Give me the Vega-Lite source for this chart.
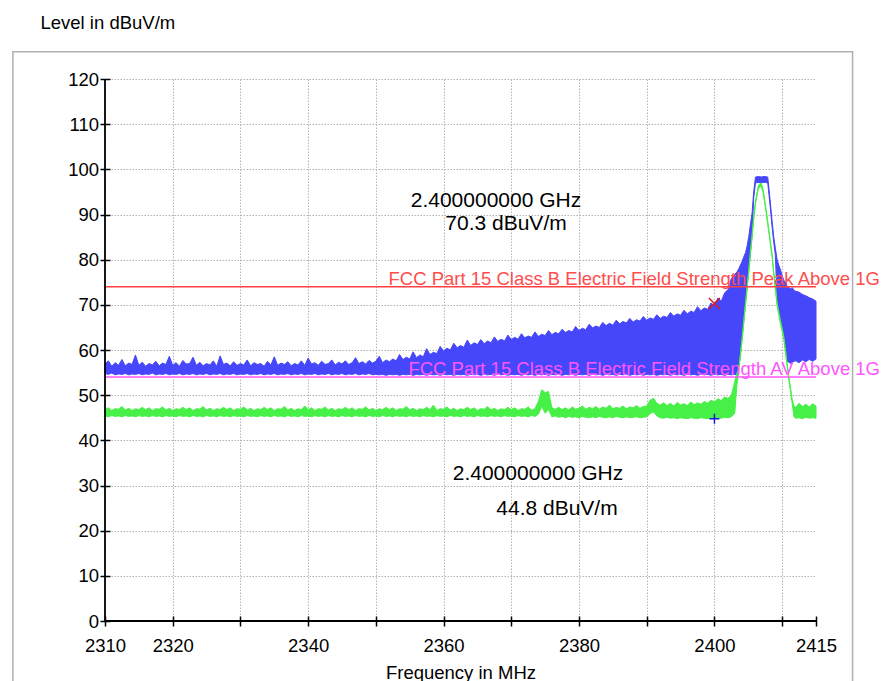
{
"$schema": "https://vega.github.io/schema/vega-lite/v6.json",
"autosize": {"type": "none"},
"padding": {"left": 105, "top": 79, "right": 66, "bottom": 60},
"width": 711,
"height": 542,
"background": "white",
"config": {"view": {"stroke": null}, "font": "Liberation Sans"},
"datasets": {
"one": [{}],
"trace": [
{"f":2310.0,"hi":56.9,"lo":54.8,"ghi":46.8,"glo":45.4},
{"f":2310.5,"hi":57.6,"lo":54.6,"ghi":47.2,"glo":45.2},
{"f":2311.0,"hi":56.4,"lo":54.9,"ghi":46.6,"glo":45.5},
{"f":2311.5,"hi":57.2,"lo":54.5,"ghi":47.0,"glo":45.3},
{"f":2312.0,"hi":56.6,"lo":54.7,"ghi":46.9,"glo":45.4},
{"f":2312.5,"hi":57.9,"lo":54.6,"ghi":47.5,"glo":45.2},
{"f":2313.0,"hi":56.5,"lo":54.8,"ghi":46.7,"glo":45.5},
{"f":2313.5,"hi":57.1,"lo":54.5,"ghi":47.1,"glo":45.3},
{"f":2314.0,"hi":56.8,"lo":54.7,"ghi":46.6,"glo":45.4},
{"f":2314.5,"hi":58.9,"lo":54.6,"ghi":47.0,"glo":45.2},
{"f":2315.0,"hi":56.6,"lo":54.8,"ghi":46.8,"glo":45.5},
{"f":2315.5,"hi":57.3,"lo":54.5,"ghi":47.3,"glo":45.3},
{"f":2316.0,"hi":56.4,"lo":54.7,"ghi":46.8,"glo":45.4},
{"f":2316.5,"hi":57.0,"lo":54.6,"ghi":47.2,"glo":45.2},
{"f":2317.0,"hi":56.7,"lo":54.9,"ghi":46.6,"glo":45.5},
{"f":2317.5,"hi":57.5,"lo":54.5,"ghi":47.0,"glo":45.3},
{"f":2318.0,"hi":56.5,"lo":54.7,"ghi":46.9,"glo":45.4},
{"f":2318.5,"hi":57.1,"lo":54.6,"ghi":47.4,"glo":45.2},
{"f":2319.0,"hi":56.8,"lo":54.8,"ghi":46.7,"glo":45.5},
{"f":2319.5,"hi":58.6,"lo":54.5,"ghi":47.1,"glo":45.3},
{"f":2320.0,"hi":56.6,"lo":54.7,"ghi":46.6,"glo":45.4},
{"f":2320.5,"hi":57.2,"lo":54.6,"ghi":47.0,"glo":45.2},
{"f":2321.0,"hi":56.4,"lo":54.8,"ghi":46.8,"glo":45.5},
{"f":2321.5,"hi":57.7,"lo":54.5,"ghi":47.3,"glo":45.3},
{"f":2322.0,"hi":56.9,"lo":54.7,"ghi":46.8,"glo":45.4},
{"f":2322.5,"hi":57.0,"lo":54.6,"ghi":47.2,"glo":45.2},
{"f":2323.0,"hi":58.4,"lo":54.8,"ghi":46.6,"glo":45.5},
{"f":2323.5,"hi":56.6,"lo":54.5,"ghi":47.0,"glo":45.3},
{"f":2324.0,"hi":57.3,"lo":54.7,"ghi":46.9,"glo":45.4},
{"f":2324.5,"hi":56.5,"lo":54.6,"ghi":47.5,"glo":45.2},
{"f":2325.0,"hi":57.0,"lo":54.8,"ghi":46.7,"glo":45.5},
{"f":2325.5,"hi":56.7,"lo":54.5,"ghi":47.1,"glo":45.3},
{"f":2326.0,"hi":57.6,"lo":54.7,"ghi":46.6,"glo":45.4},
{"f":2326.5,"hi":56.4,"lo":54.6,"ghi":47.0,"glo":45.2},
{"f":2327.0,"hi":58.7,"lo":54.8,"ghi":46.8,"glo":45.5},
{"f":2327.5,"hi":56.8,"lo":54.5,"ghi":47.3,"glo":45.3},
{"f":2328.0,"hi":57.1,"lo":54.7,"ghi":46.8,"glo":45.4},
{"f":2328.5,"hi":56.5,"lo":54.6,"ghi":47.2,"glo":45.2},
{"f":2329.0,"hi":57.4,"lo":54.8,"ghi":46.6,"glo":45.5},
{"f":2329.5,"hi":56.6,"lo":54.5,"ghi":47.0,"glo":45.3},
{"f":2330.0,"hi":57.0,"lo":54.7,"ghi":46.9,"glo":45.4},
{"f":2330.5,"hi":56.7,"lo":54.6,"ghi":47.4,"glo":45.2},
{"f":2331.0,"hi":57.8,"lo":54.8,"ghi":46.7,"glo":45.5},
{"f":2331.5,"hi":56.5,"lo":54.5,"ghi":47.1,"glo":45.3},
{"f":2332.0,"hi":57.2,"lo":54.7,"ghi":46.6,"glo":45.4},
{"f":2332.5,"hi":56.8,"lo":54.6,"ghi":47.0,"glo":45.2},
{"f":2333.0,"hi":57.0,"lo":54.8,"ghi":46.8,"glo":45.5},
{"f":2333.5,"hi":56.4,"lo":54.5,"ghi":47.3,"glo":45.3},
{"f":2334.0,"hi":57.5,"lo":54.7,"ghi":46.8,"glo":45.4},
{"f":2334.5,"hi":56.7,"lo":54.6,"ghi":47.2,"glo":45.2},
{"f":2335.0,"hi":58.5,"lo":54.8,"ghi":46.6,"glo":45.5},
{"f":2335.5,"hi":56.6,"lo":54.5,"ghi":47.0,"glo":45.3},
{"f":2336.0,"hi":57.1,"lo":54.7,"ghi":46.9,"glo":45.4},
{"f":2336.5,"hi":56.8,"lo":54.6,"ghi":47.5,"glo":45.2},
{"f":2337.0,"hi":57.4,"lo":54.8,"ghi":46.7,"glo":45.5},
{"f":2337.5,"hi":56.5,"lo":54.5,"ghi":47.1,"glo":45.3},
{"f":2338.0,"hi":57.0,"lo":54.7,"ghi":46.6,"glo":45.4},
{"f":2338.5,"hi":56.7,"lo":54.6,"ghi":47.0,"glo":45.2},
{"f":2339.0,"hi":57.6,"lo":54.8,"ghi":46.8,"glo":45.5},
{"f":2339.5,"hi":56.6,"lo":54.5,"ghi":47.6,"glo":45.3},
{"f":2340.0,"hi":58.2,"lo":54.7,"ghi":46.8,"glo":45.4},
{"f":2340.5,"hi":56.9,"lo":54.6,"ghi":47.2,"glo":45.2},
{"f":2341.0,"hi":57.2,"lo":54.8,"ghi":46.6,"glo":45.5},
{"f":2341.5,"hi":56.6,"lo":54.5,"ghi":47.0,"glo":45.3},
{"f":2342.0,"hi":57.5,"lo":54.7,"ghi":46.9,"glo":45.4},
{"f":2342.5,"hi":56.8,"lo":54.6,"ghi":47.4,"glo":45.2},
{"f":2343.0,"hi":57.0,"lo":54.8,"ghi":46.7,"glo":45.5},
{"f":2343.5,"hi":57.8,"lo":54.5,"ghi":47.1,"glo":45.3},
{"f":2344.0,"hi":56.7,"lo":54.7,"ghi":46.6,"glo":45.4},
{"f":2344.5,"hi":57.3,"lo":54.6,"ghi":47.0,"glo":45.2},
{"f":2345.0,"hi":56.9,"lo":54.8,"ghi":46.8,"glo":45.5},
{"f":2345.5,"hi":57.6,"lo":54.5,"ghi":47.3,"glo":45.3},
{"f":2346.0,"hi":56.8,"lo":54.7,"ghi":46.8,"glo":45.4},
{"f":2346.5,"hi":57.2,"lo":54.6,"ghi":47.2,"glo":45.2},
{"f":2347.0,"hi":58.3,"lo":54.8,"ghi":46.6,"glo":45.5},
{"f":2347.5,"hi":57.0,"lo":54.5,"ghi":47.0,"glo":45.3},
{"f":2348.0,"hi":57.4,"lo":54.7,"ghi":46.9,"glo":45.4},
{"f":2348.5,"hi":56.9,"lo":54.6,"ghi":47.4,"glo":45.2},
{"f":2349.0,"hi":57.7,"lo":54.8,"ghi":46.7,"glo":45.5},
{"f":2349.5,"hi":57.1,"lo":54.5,"ghi":47.1,"glo":45.3},
{"f":2350.0,"hi":57.5,"lo":54.6,"ghi":46.6,"glo":45.4},
{"f":2350.5,"hi":58.6,"lo":54.5,"ghi":47.0,"glo":45.2},
{"f":2351.0,"hi":57.2,"lo":54.6,"ghi":46.8,"glo":45.5},
{"f":2351.5,"hi":57.8,"lo":54.4,"ghi":47.3,"glo":45.3},
{"f":2352.0,"hi":57.4,"lo":54.6,"ghi":46.8,"glo":45.4},
{"f":2352.5,"hi":58.0,"lo":54.5,"ghi":47.2,"glo":45.2},
{"f":2353.0,"hi":57.6,"lo":54.6,"ghi":46.6,"glo":45.5},
{"f":2353.5,"hi":59.0,"lo":54.4,"ghi":47.0,"glo":45.3},
{"f":2354.0,"hi":57.9,"lo":54.6,"ghi":46.9,"glo":45.4},
{"f":2354.5,"hi":58.4,"lo":54.5,"ghi":47.5,"glo":45.2},
{"f":2355.0,"hi":58.0,"lo":54.6,"ghi":46.7,"glo":45.5},
{"f":2355.5,"hi":59.6,"lo":54.4,"ghi":47.1,"glo":45.3},
{"f":2356.0,"hi":58.3,"lo":54.6,"ghi":46.6,"glo":45.4},
{"f":2356.5,"hi":58.9,"lo":54.5,"ghi":47.0,"glo":45.2},
{"f":2357.0,"hi":58.5,"lo":54.6,"ghi":46.8,"glo":45.5},
{"f":2357.5,"hi":60.3,"lo":54.4,"ghi":47.3,"glo":45.3},
{"f":2358.0,"hi":59.0,"lo":54.6,"ghi":46.8,"glo":45.4},
{"f":2358.5,"hi":59.5,"lo":54.5,"ghi":47.8,"glo":45.2},
{"f":2359.0,"hi":59.2,"lo":54.6,"ghi":46.6,"glo":45.5},
{"f":2359.5,"hi":60.8,"lo":54.4,"ghi":47.0,"glo":45.3},
{"f":2360.0,"hi":59.8,"lo":54.6,"ghi":46.9,"glo":45.4},
{"f":2360.5,"hi":60.4,"lo":54.5,"ghi":47.4,"glo":45.2},
{"f":2361.0,"hi":60.0,"lo":54.6,"ghi":46.7,"glo":45.5},
{"f":2361.5,"hi":61.5,"lo":54.4,"ghi":47.1,"glo":45.3},
{"f":2362.0,"hi":60.5,"lo":54.6,"ghi":46.6,"glo":45.4},
{"f":2362.5,"hi":61.0,"lo":54.5,"ghi":47.0,"glo":45.2},
{"f":2363.0,"hi":60.6,"lo":54.6,"ghi":46.8,"glo":45.5},
{"f":2363.5,"hi":62.2,"lo":54.4,"ghi":47.3,"glo":45.3},
{"f":2364.0,"hi":61.0,"lo":54.6,"ghi":46.8,"glo":45.4},
{"f":2364.5,"hi":61.6,"lo":54.5,"ghi":47.2,"glo":45.2},
{"f":2365.0,"hi":61.2,"lo":54.6,"ghi":46.6,"glo":45.5},
{"f":2365.5,"hi":62.3,"lo":54.4,"ghi":47.0,"glo":45.3},
{"f":2366.0,"hi":61.4,"lo":54.6,"ghi":46.9,"glo":45.4},
{"f":2366.5,"hi":62.0,"lo":54.5,"ghi":47.5,"glo":45.2},
{"f":2367.0,"hi":61.6,"lo":54.6,"ghi":46.7,"glo":45.5},
{"f":2367.5,"hi":62.9,"lo":54.4,"ghi":47.1,"glo":45.3},
{"f":2368.0,"hi":61.9,"lo":54.6,"ghi":46.6,"glo":45.4},
{"f":2368.5,"hi":62.4,"lo":54.5,"ghi":47.0,"glo":45.2},
{"f":2369.0,"hi":62.0,"lo":54.6,"ghi":46.8,"glo":45.5},
{"f":2369.5,"hi":63.3,"lo":54.4,"ghi":47.3,"glo":45.3},
{"f":2370.0,"hi":62.3,"lo":54.6,"ghi":46.8,"glo":45.4},
{"f":2370.5,"hi":62.8,"lo":54.5,"ghi":47.2,"glo":45.2},
{"f":2371.0,"hi":62.4,"lo":54.6,"ghi":46.6,"glo":45.5},
{"f":2371.5,"hi":63.6,"lo":54.4,"ghi":47.0,"glo":45.3},
{"f":2372.0,"hi":62.7,"lo":54.6,"ghi":46.9,"glo":45.4},
{"f":2372.5,"hi":63.1,"lo":54.5,"ghi":47.4,"glo":45.2},
{"f":2373.0,"hi":62.8,"lo":54.6,"ghi":46.7,"glo":45.5},
{"f":2373.5,"hi":64.0,"lo":54.4,"ghi":47.0,"glo":45.3},
{"f":2374.0,"hi":63.0,"lo":54.6,"ghi":48.6,"glo":45.8},
{"f":2374.5,"hi":63.5,"lo":54.5,"ghi":51.2,"glo":47.5},
{"f":2375.0,"hi":63.2,"lo":54.6,"ghi":50.6,"glo":46.0},
{"f":2375.5,"hi":64.3,"lo":54.4,"ghi":50.8,"glo":46.8},
{"f":2376.0,"hi":63.4,"lo":54.6,"ghi":47.2,"glo":45.2},
{"f":2376.5,"hi":63.9,"lo":54.5,"ghi":46.9,"glo":45.4},
{"f":2377.0,"hi":63.6,"lo":54.6,"ghi":47.3,"glo":45.1},
{"f":2377.5,"hi":64.6,"lo":54.4,"ghi":46.8,"glo":45.3},
{"f":2378.0,"hi":63.9,"lo":54.6,"ghi":47.2,"glo":45.0},
{"f":2378.5,"hi":64.3,"lo":54.5,"ghi":46.7,"glo":45.3},
{"f":2379.0,"hi":64.0,"lo":54.6,"ghi":47.4,"glo":45.1},
{"f":2379.5,"hi":65.2,"lo":54.4,"ghi":46.9,"glo":45.2},
{"f":2380.0,"hi":64.3,"lo":54.6,"ghi":47.1,"glo":45.0},
{"f":2380.5,"hi":64.8,"lo":54.5,"ghi":47.6,"glo":45.3},
{"f":2381.0,"hi":64.5,"lo":54.6,"ghi":46.9,"glo":45.1},
{"f":2381.5,"hi":65.7,"lo":54.4,"ghi":47.3,"glo":45.0},
{"f":2382.0,"hi":64.9,"lo":54.6,"ghi":47.0,"glo":45.2},
{"f":2382.5,"hi":65.3,"lo":54.5,"ghi":47.5,"glo":45.0},
{"f":2383.0,"hi":65.0,"lo":54.6,"ghi":46.9,"glo":45.3},
{"f":2383.5,"hi":66.1,"lo":54.4,"ghi":47.4,"glo":45.1},
{"f":2384.0,"hi":65.4,"lo":54.6,"ghi":47.1,"glo":45.0},
{"f":2384.5,"hi":65.9,"lo":54.5,"ghi":47.8,"glo":45.2},
{"f":2385.0,"hi":65.5,"lo":54.6,"ghi":47.0,"glo":45.0},
{"f":2385.5,"hi":66.6,"lo":54.4,"ghi":47.3,"glo":45.3},
{"f":2386.0,"hi":65.8,"lo":54.6,"ghi":47.1,"glo":45.1},
{"f":2386.5,"hi":66.3,"lo":54.5,"ghi":47.6,"glo":45.0},
{"f":2387.0,"hi":66.0,"lo":54.6,"ghi":47.0,"glo":45.2},
{"f":2387.5,"hi":67.0,"lo":54.4,"ghi":47.4,"glo":45.0},
{"f":2388.0,"hi":66.2,"lo":54.6,"ghi":47.2,"glo":45.1},
{"f":2388.5,"hi":66.7,"lo":54.5,"ghi":47.7,"glo":45.2},
{"f":2389.0,"hi":66.4,"lo":54.6,"ghi":47.1,"glo":45.0},
{"f":2389.5,"hi":67.4,"lo":54.4,"ghi":47.5,"glo":45.1},
{"f":2390.0,"hi":66.6,"lo":54.6,"ghi":47.6,"glo":45.2},
{"f":2390.5,"hi":67.1,"lo":54.5,"ghi":48.9,"glo":45.9},
{"f":2391.0,"hi":66.8,"lo":54.6,"ghi":49.3,"glo":46.3},
{"f":2391.5,"hi":67.8,"lo":54.4,"ghi":48.2,"glo":45.4},
{"f":2392.0,"hi":67.0,"lo":54.6,"ghi":47.8,"glo":45.0},
{"f":2392.5,"hi":67.5,"lo":54.5,"ghi":48.3,"glo":44.9},
{"f":2393.0,"hi":67.2,"lo":54.6,"ghi":47.7,"glo":45.1},
{"f":2393.5,"hi":68.3,"lo":54.4,"ghi":48.2,"glo":44.9},
{"f":2394.0,"hi":67.5,"lo":54.6,"ghi":47.6,"glo":45.0},
{"f":2394.5,"hi":68.0,"lo":54.5,"ghi":48.4,"glo":44.8},
{"f":2395.0,"hi":67.7,"lo":54.6,"ghi":47.8,"glo":45.0},
{"f":2395.5,"hi":68.8,"lo":54.4,"ghi":48.1,"glo":44.9},
{"f":2396.0,"hi":68.0,"lo":54.6,"ghi":47.7,"glo":44.8},
{"f":2396.5,"hi":68.6,"lo":54.5,"ghi":48.5,"glo":45.0},
{"f":2397.0,"hi":68.3,"lo":54.6,"ghi":47.9,"glo":44.9},
{"f":2397.5,"hi":69.6,"lo":54.4,"ghi":48.3,"glo":44.8},
{"f":2398.0,"hi":68.7,"lo":54.6,"ghi":48.0,"glo":45.0},
{"f":2398.5,"hi":69.3,"lo":54.5,"ghi":48.6,"glo":44.9},
{"f":2399.0,"hi":69.0,"lo":54.6,"ghi":48.2,"glo":44.8},
{"f":2399.5,"hi":70.4,"lo":54.4,"ghi":48.9,"glo":45.0},
{"f":2400.0,"hi":69.8,"lo":54.6,"ghi":48.5,"glo":44.9},
{"f":2400.5,"hi":71.5,"lo":54.5,"ghi":49.2,"glo":45.0},
{"f":2401.0,"hi":70.8,"lo":54.6,"ghi":48.8,"glo":44.9},
{"f":2401.5,"hi":72.6,"lo":54.4,"ghi":49.6,"glo":45.1},
{"f":2402.0,"hi":73.4,"lo":54.6,"ghi":49.3,"glo":45.0},
{"f":2402.5,"hi":75.8,"lo":54.5,"ghi":49.9,"glo":45.2},
{"f":2403.0,"hi":76.8,"lo":54.6,"ghi":53.0,"glo":46.0},
{"f":2403.3,"hi":77.2,"lo":54.5,"ghi":54.8,"glo":52.0},
{"f":2403.6,"hi":78.0,"lo":56.0,"ghi":56.0,"glo":55.2},
{"f":2404.0,"hi":79.3,"lo":61.5,"ghi":61.5,"glo":60.8},
{"f":2404.3,"hi":80.5,"lo":66.0,"ghi":66.0,"glo":65.3},
{"f":2404.6,"hi":81.6,"lo":70.7,"ghi":70.7,"glo":70.0},
{"f":2404.85,"hi":83.2,"lo":74.5,"ghi":74.5,"glo":73.8},
{"f":2405.07,"hi":85.1,"lo":77.8,"ghi":77.8,"glo":77.1},
{"f":2405.3,"hi":87.6,"lo":81.5,"ghi":81.5,"glo":80.8},
{"f":2405.56,"hi":90.3,"lo":85.5,"ghi":85.5,"glo":84.8},
{"f":2405.8,"hi":95.0,"lo":93.6,"ghi":89.5,"glo":88.8},
{"f":2406.06,"hi":98.3,"lo":97.0,"ghi":93.0,"glo":92.3},
{"f":2406.5,"hi":98.4,"lo":97.1,"ghi":96.5,"glo":95.8},
{"f":2406.9,"hi":98.3,"lo":97.0,"ghi":97.0,"glo":96.3},
{"f":2407.2,"hi":98.4,"lo":97.1,"ghi":95.5,"glo":94.8},
{"f":2407.5,"hi":98.4,"lo":97.1,"ghi":92.5,"glo":91.8},
{"f":2407.87,"hi":98.3,"lo":97.0,"ghi":88.5,"glo":87.8},
{"f":2408.07,"hi":95.5,"lo":94.2,"ghi":86.3,"glo":85.6},
{"f":2408.27,"hi":92.5,"lo":91.2,"ghi":84.0,"glo":83.3},
{"f":2408.5,"hi":88.8,"lo":87.5,"ghi":81.5,"glo":80.8},
{"f":2408.76,"hi":85.1,"lo":83.8,"ghi":77.5,"glo":76.8},
{"f":2409.0,"hi":82.5,"lo":81.0,"ghi":74.0,"glo":73.3},
{"f":2409.26,"hi":80.0,"lo":71.0,"ghi":70.4,"glo":69.7},
{"f":2409.5,"hi":78.8,"lo":69.0,"ghi":68.5,"glo":67.8},
{"f":2409.75,"hi":77.8,"lo":67.0,"ghi":66.5,"glo":65.8},
{"f":2410.0,"hi":76.5,"lo":65.3,"ghi":64.8,"glo":64.1},
{"f":2410.24,"hi":75.5,"lo":63.5,"ghi":63.0,"glo":62.3},
{"f":2410.5,"hi":74.8,"lo":60.5,"ghi":60.0,"glo":59.3},
{"f":2410.74,"hi":74.1,"lo":57.5,"ghi":57.0,"glo":56.3},
{"f":2411.0,"hi":73.9,"lo":57.3,"ghi":54.0,"glo":53.3},
{"f":2411.25,"hi":73.5,"lo":57.0,"ghi":51.5,"glo":50.8},
{"f":2411.5,"hi":73.8,"lo":57.3,"ghi":49.0,"glo":48.0},
{"f":2411.75,"hi":73.2,"lo":57.5,"ghi":47.6,"glo":45.2},
{"f":2412.0,"hi":73.0,"lo":57.6,"ghi":47.3,"glo":44.9},
{"f":2412.5,"hi":72.8,"lo":57.2,"ghi":48.2,"glo":45.0},
{"f":2413.0,"hi":72.3,"lo":57.8,"ghi":47.5,"glo":44.8},
{"f":2413.5,"hi":72.0,"lo":57.4,"ghi":48.0,"glo":45.1},
{"f":2414.0,"hi":71.6,"lo":57.9,"ghi":47.4,"glo":44.9},
{"f":2414.5,"hi":71.3,"lo":57.5,"ghi":48.1,"glo":45.0},
{"f":2415.0,"hi":70.8,"lo":58.0,"ghi":47.6,"glo":44.9}
]
},
"layer": [
{
"data": {"name": "trace"},
"mark": {"type": "area", "color": "#4646FA", "stroke": "#4646FA", "strokeWidth": 1, "opacity": 1},
"encoding": {
"x": {"field": "f", "type": "quantitative",
"scale": {"domain": [2310, 2415], "nice": false, "zero": false},
"axis": {"title": "Frequency in MHz", "titleFontSize": 18.5, "titleFontWeight": "normal", "titleColor": "#000000", "titleY": 62, "titleBaseline": "alphabetic",
"values": [2310, 2320, 2330, 2340, 2350, 2360, 2370, 2380, 2390, 2400, 2410, 2415],
"format": "d",
"labelExpr": "indexof([2310,2320,2340,2360,2380,2400,2415], datum.value) >= 0 ? datum.label : ''",
"labelFontSize": 18.5, "labelColor": "#000000", "labelFlush": false, "labelOverlap": false, "labelPadding": 10,
"domain": false, "offset": -5, "tickSize": 10, "tickColor": "#000000", "tickWidth": 1.5,
"grid": true, "gridColor": "#b4b4b4", "gridDash": [1.5, 1.5], "gridWidth": 1,
"gridOpacity": {"condition": {"test": "datum.value == 2415", "value": 0}, "value": 1}}},
"y": {"field": "hi", "type": "quantitative", "stack": null,
"scale": {"domain": [0, 120], "nice": false, "zero": false},
"axis": {"title": "Level in dBuV/m", "titleAngle": 0, "titleAlign": "left", "titleBaseline": "alphabetic", "titleX": -70, "titleY": -51, "titleFontSize": 18.5, "titleFontWeight": "normal", "titleColor": "#000000",
"values": [0, 5, 10, 15, 20, 25, 30, 35, 40, 45, 50, 55, 60, 65, 70, 75, 80, 85, 90, 95, 100, 105, 110, 115, 120],
"labelExpr": "datum.value % 10 == 0 ? datum.label : ''",
"labelFontSize": 18.5, "labelColor": "#000000", "labelPadding": 1.5, "labelFlush": false, "labelOverlap": false,
"domain": false, "offset": -5, "tickSize": 10, "tickColor": "#000000", "tickWidth": 1.5,
"grid": true, "gridColor": "#b4b4b4", "gridDash": [1.5, 1.5], "gridWidth": 1}},
"y2": {"field": "lo"}
}
},
{
"data": {"name": "trace"},
"mark": {"type": "area", "color": "#46F046", "stroke": "#46F046", "strokeWidth": 1, "opacity": 1},
"encoding": {
"x": {"field": "f", "type": "quantitative"},
"y": {"field": "ghi", "type": "quantitative", "stack": null},
"y2": {"field": "glo"}
}
},
{
"data": {"name": "one"},
"mark": {"type": "rule", "color": "#FF4040", "strokeWidth": 1.5},
"encoding": {"y": {"datum": 74, "type": "quantitative"}, "x": {"datum": 2310, "type": "quantitative"}, "x2": {"datum": 2415}}
},
{
"data": {"name": "one"},
"mark": {"type": "rule", "color": "#FF55FF", "strokeWidth": 1.5},
"encoding": {"y": {"datum": 54, "type": "quantitative"}, "x": {"datum": 2310, "type": "quantitative"}, "x2": {"datum": 2415}}
},
{
"data": {"name": "one"},
"mark": {"type": "text", "align": "right", "baseline": "alphabetic", "fontSize": 18.5, "color": "#FF4D4D"},
"encoding": {"x": {"datum": 2424.45, "type": "quantitative"}, "y": {"datum": 74.5, "type": "quantitative"}, "text": {"value": "FCC Part 15 Class B Electric Field Strength Peak Above 1G"}}
},
{
"data": {"name": "one"},
"mark": {"type": "text", "align": "right", "baseline": "alphabetic", "fontSize": 18.5, "color": "#FF55FF"},
"encoding": {"x": {"datum": 2424.45, "type": "quantitative"}, "y": {"datum": 54.46, "type": "quantitative"}, "text": {"value": "FCC Part 15 Class B Electric Field Strength AV Above 1G"}}
},
{
"data": {"name": "one"},
"mark": {"type": "point", "shape": "M-1,-1L1,1M-1,1L1,-1", "size": 121, "filled": false, "stroke": "#E01818", "strokeWidth": 1.5, "opacity": 1},
"encoding": {"x": {"datum": 2400, "type": "quantitative"}, "y": {"datum": 70.3, "type": "quantitative"}}
},
{
"data": {"name": "one"},
"mark": {"type": "point", "shape": "M-1,0L1,0M0,-1L0,1", "size": 100, "filled": false, "stroke": "#1818E0", "strokeWidth": 1.5, "opacity": 1},
"encoding": {"x": {"datum": 2400, "type": "quantitative"}, "y": {"datum": 44.8, "type": "quantitative"}}
},
{
"data": {"name": "one"},
"mark": {"type": "text", "align": "center", "baseline": "alphabetic", "fontSize": 21, "color": "#000000"},
"encoding": {"x": {"datum": 2367.74, "type": "quantitative"}, "y": {"datum": 91.66, "type": "quantitative"}, "text": {"value": "2.400000000 GHz"}}
},
{
"data": {"name": "one"},
"mark": {"type": "text", "align": "center", "baseline": "alphabetic", "fontSize": 21, "color": "#000000"},
"encoding": {"x": {"datum": 2369.22, "type": "quantitative"}, "y": {"datum": 86.57, "type": "quantitative"}, "text": {"value": "70.3 dBuV/m"}}
},
{
"data": {"name": "one"},
"mark": {"type": "text", "align": "center", "baseline": "alphabetic", "fontSize": 21, "color": "#000000"},
"encoding": {"x": {"datum": 2373.94, "type": "quantitative"}, "y": {"datum": 31.22, "type": "quantitative"}, "text": {"value": "2.400000000 GHz"}}
},
{
"data": {"name": "one"},
"mark": {"type": "text", "align": "center", "baseline": "alphabetic", "fontSize": 21, "color": "#000000"},
"encoding": {"x": {"datum": 2376.75, "type": "quantitative"}, "y": {"datum": 23.47, "type": "quantitative"}, "text": {"value": "44.8 dBuV/m"}}
},
{
"data": {"name": "one"},
"mark": {"type": "rule", "color": "#000000", "strokeWidth": 1.8},
"encoding": {"x": {"datum": 2310, "type": "quantitative"}, "y": {"datum": 0, "type": "quantitative"}, "y2": {"datum": 120}}
},
{
"data": {"name": "one"},
"mark": {"type": "rule", "color": "#000000", "strokeWidth": 1.8},
"encoding": {"y": {"datum": 0, "type": "quantitative"}, "x": {"datum": 2310, "type": "quantitative"}, "x2": {"datum": 2415}}
},
{
"data": {"name": "one"},
"mark": {"type": "rect", "filled": false, "stroke": "#b0b0b0", "strokeWidth": 1.5},
"encoding": {"x": {"datum": 2296.4, "type": "quantitative"}, "x2": {"datum": 2420.4}, "y": {"datum": 126.05, "type": "quantitative"}, "y2": {"datum": -20}}
}
]
}
